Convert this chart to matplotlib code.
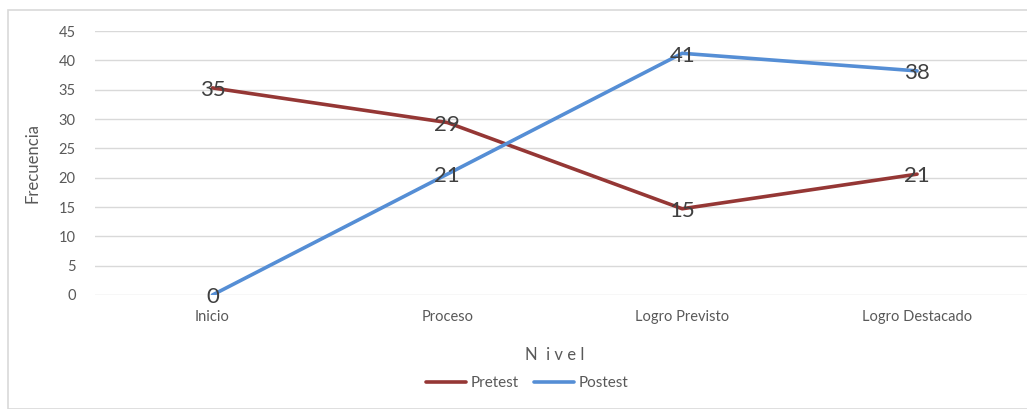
import matplotlib
matplotlib.use("Agg")
import matplotlib.pyplot as plt
from matplotlib.patches import Rectangle

plt.rcParams['font.family'] = ['Lato', 'DejaVu Sans']

niveles = ["Inicio", "Proceso", "Logro Previsto", "Logro Destacado"]
pretest = [35.3, 29.4, 14.7, 20.6]
postest = [0.0, 20.6, 41.2, 38.2]
yticks = [0, 5, 10, 15, 20, 25, 30, 35, 40, 45]

W, H = 1027, 409
fig = plt.figure(figsize=(W / 100, H / 100), dpi=100)
# marco gris del grafico
fig.patches.append(Rectangle((8 / W, 0), 1.2, 1 - 10 / H, transform=fig.transFigure,
                             fill=False, edgecolor="#D9D9D9", linewidth=1.2))

ax = fig.add_axes([95 / W, 1 - 295 / H, 1 - 95 / W, (295 - 31) / H])
x = list(range(len(niveles)))
ax.plot(x, pretest, color="#953735", linewidth=2.6, label="Pretest", solid_capstyle="round")
ax.plot(x, postest, color="#558ED5", linewidth=2.6, label="Postest", solid_capstyle="round")

for i, v in enumerate(pretest):
    ax.text(i, v - 0.4, "%.0f" % v, ha="center", va="center", fontsize=16, color="#404040")
for i, v in enumerate(postest):
    ax.text(i, v - 0.4, "%.0f" % v, ha="center", va="center", fontsize=16, color="#404040")

ax.set_ylim(0, 45)
ax.set_yticks(yticks)
ax.set_xlim(-0.5, (1027 - 212) / 235)
ax.set_xticks(x)
ax.set_xticklabels(niveles)
ax.tick_params(length=0, labelsize=10.5, labelcolor="#595959")
ax.tick_params(axis="y", pad=14)
ax.tick_params(axis="x", pad=11)
ax.grid(axis="y", color="#D9D9D9", linewidth=1)
ax.set_axisbelow(True)
for s in ax.spines.values():
    s.set_visible(False)

ax.set_ylabel("Frecuencia", fontsize=12, color="#595959", labelpad=13)
fig.text(555 / W, 1 - 355 / H, "N  i v e l", ha="center", va="center", fontsize=12, color="#595959")
fig.legend(loc="center", bbox_to_anchor=(527 / W, 1 - 383 / H), ncol=2, frameon=False,
           fontsize=11, labelcolor="#595959", handlelength=2.6, columnspacing=1.0, handletextpad=0.3)

fig.savefig("out.png", dpi=100)
